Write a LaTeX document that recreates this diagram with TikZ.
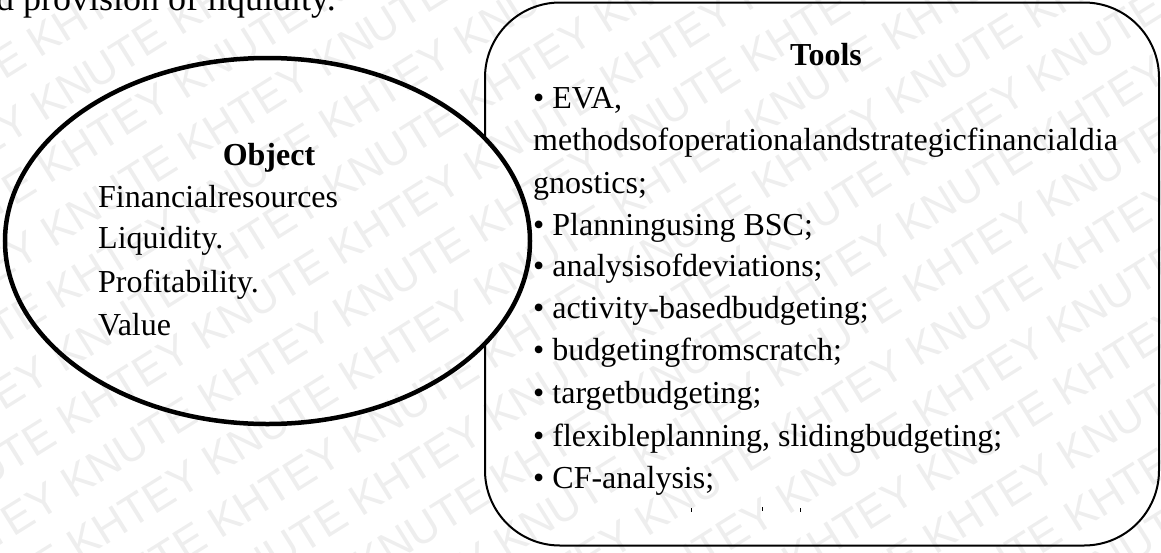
\documentclass[tikz,border=0pt]{standalone}
\usepackage{fontspec}
\setmainfont{Liberation Serif}
\newfontfamily\wmfont{Liberation Sans}
\usetikzlibrary{shapes.geometric}

\begin{document}
\begin{tikzpicture}[x=1pt,y=-1pt,
  txt/.style={anchor=base west,inner sep=0pt,font=\fontsize{32}{38}\selectfont},
  head/.style={anchor=base,inner sep=0pt,font=\fontsize{32}{38}\selectfont\bfseries},
  frame/.style={draw,line width=2pt,rounded corners=75pt,inner sep=0pt},
  oval/.style={ellipse,inner sep=0pt,minimum width=525pt,minimum height=366pt},
  wm/.style={inner sep=0pt,font=\wmfont\fontsize{44}{44}\selectfont,text=black,text opacity=0.065,rotate=32},
]
\useasboundingbox (0,0) rectangle (1161,552);
\fill[white] (0,0) rectangle (1161,552);

% frame of the tools list
\node[frame,minimum width=674pt,minimum height=543pt] (tools) at (822,274) {};

% the object oval hides the frame edge behind it
\node[oval,fill=white] (objfill) at (267.5,241) {};

% diagonal watermark rows
\foreach \k in {-1,...,20} {
  \pgfmathsetmacro\d{56*\k-541.5}
  \pgfmathsetmacro\sh{mod(131*\k,320)}
  \pgfmathsetmacro\cx{580+\d*0.530+\sh*0.848}
  \pgfmathsetmacro\cy{276+\d*0.848-\sh*0.530}
  \node[wm] (wm-\k) at (\cx,\cy) {KHTEY KNUTE KHTEY KNUTE KHTEY KNUTE KHTEY KNUTE KHTEY KNUTE KHTEY KNUTE KHTEY KNUTE KHTEY KNUTE KHTEY KNUTE};
}

% border of the oval
\node[oval,draw,line width=4.5pt] (obj) at (267.5,241) {};

% running text above the scheme
\node[txt,font=\fontsize{36}{40}\selectfont] (intro) at (-4,10) {d provision of liquidity.};

% object
\node[head] (objhead) at (269,165) {Object};
\node[txt] (o1) at (98,207) {Financialresources};
\node[txt] (o2) at (98,248) {Liquidity.};
\node[txt] (o3) at (98,292) {Profitability.};
\node[txt] (o4) at (98,335) {Value};

% tools
\node[head] (thead) at (826,65) {Tools};
\node[txt] (t1) at (533,108) {• EVA,};
\node[txt] (t2) at (533,150) {methodsofoperationalandstrategicfinancialdia};
\node[txt] (t3) at (533,193) {gnostics;};
\node[txt] (t4) at (533,235) {• Planningusing BSC;};
\node[txt] (t5) at (533,276) {• analysisofdeviations;};
\node[txt] (t6) at (533,318) {• activity-basedbudgeting;};
\node[txt] (t7) at (533,360) {• budgetingfromscratch;};
\node[txt] (t8) at (533,403) {• targetbudgeting;};
\node[txt] (t9) at (533,446) {• flexibleplanning, slidingbudgeting;};
\node[txt] (t10) at (533,488) {• CF-analysis;};

% tops of the next, cut-off line
\fill (690.5,508) rectangle (692,512);
\fill (761.5,507) rectangle (763,511);
\fill (799.5,508) rectangle (801,512);
\end{tikzpicture}
\end{document}
